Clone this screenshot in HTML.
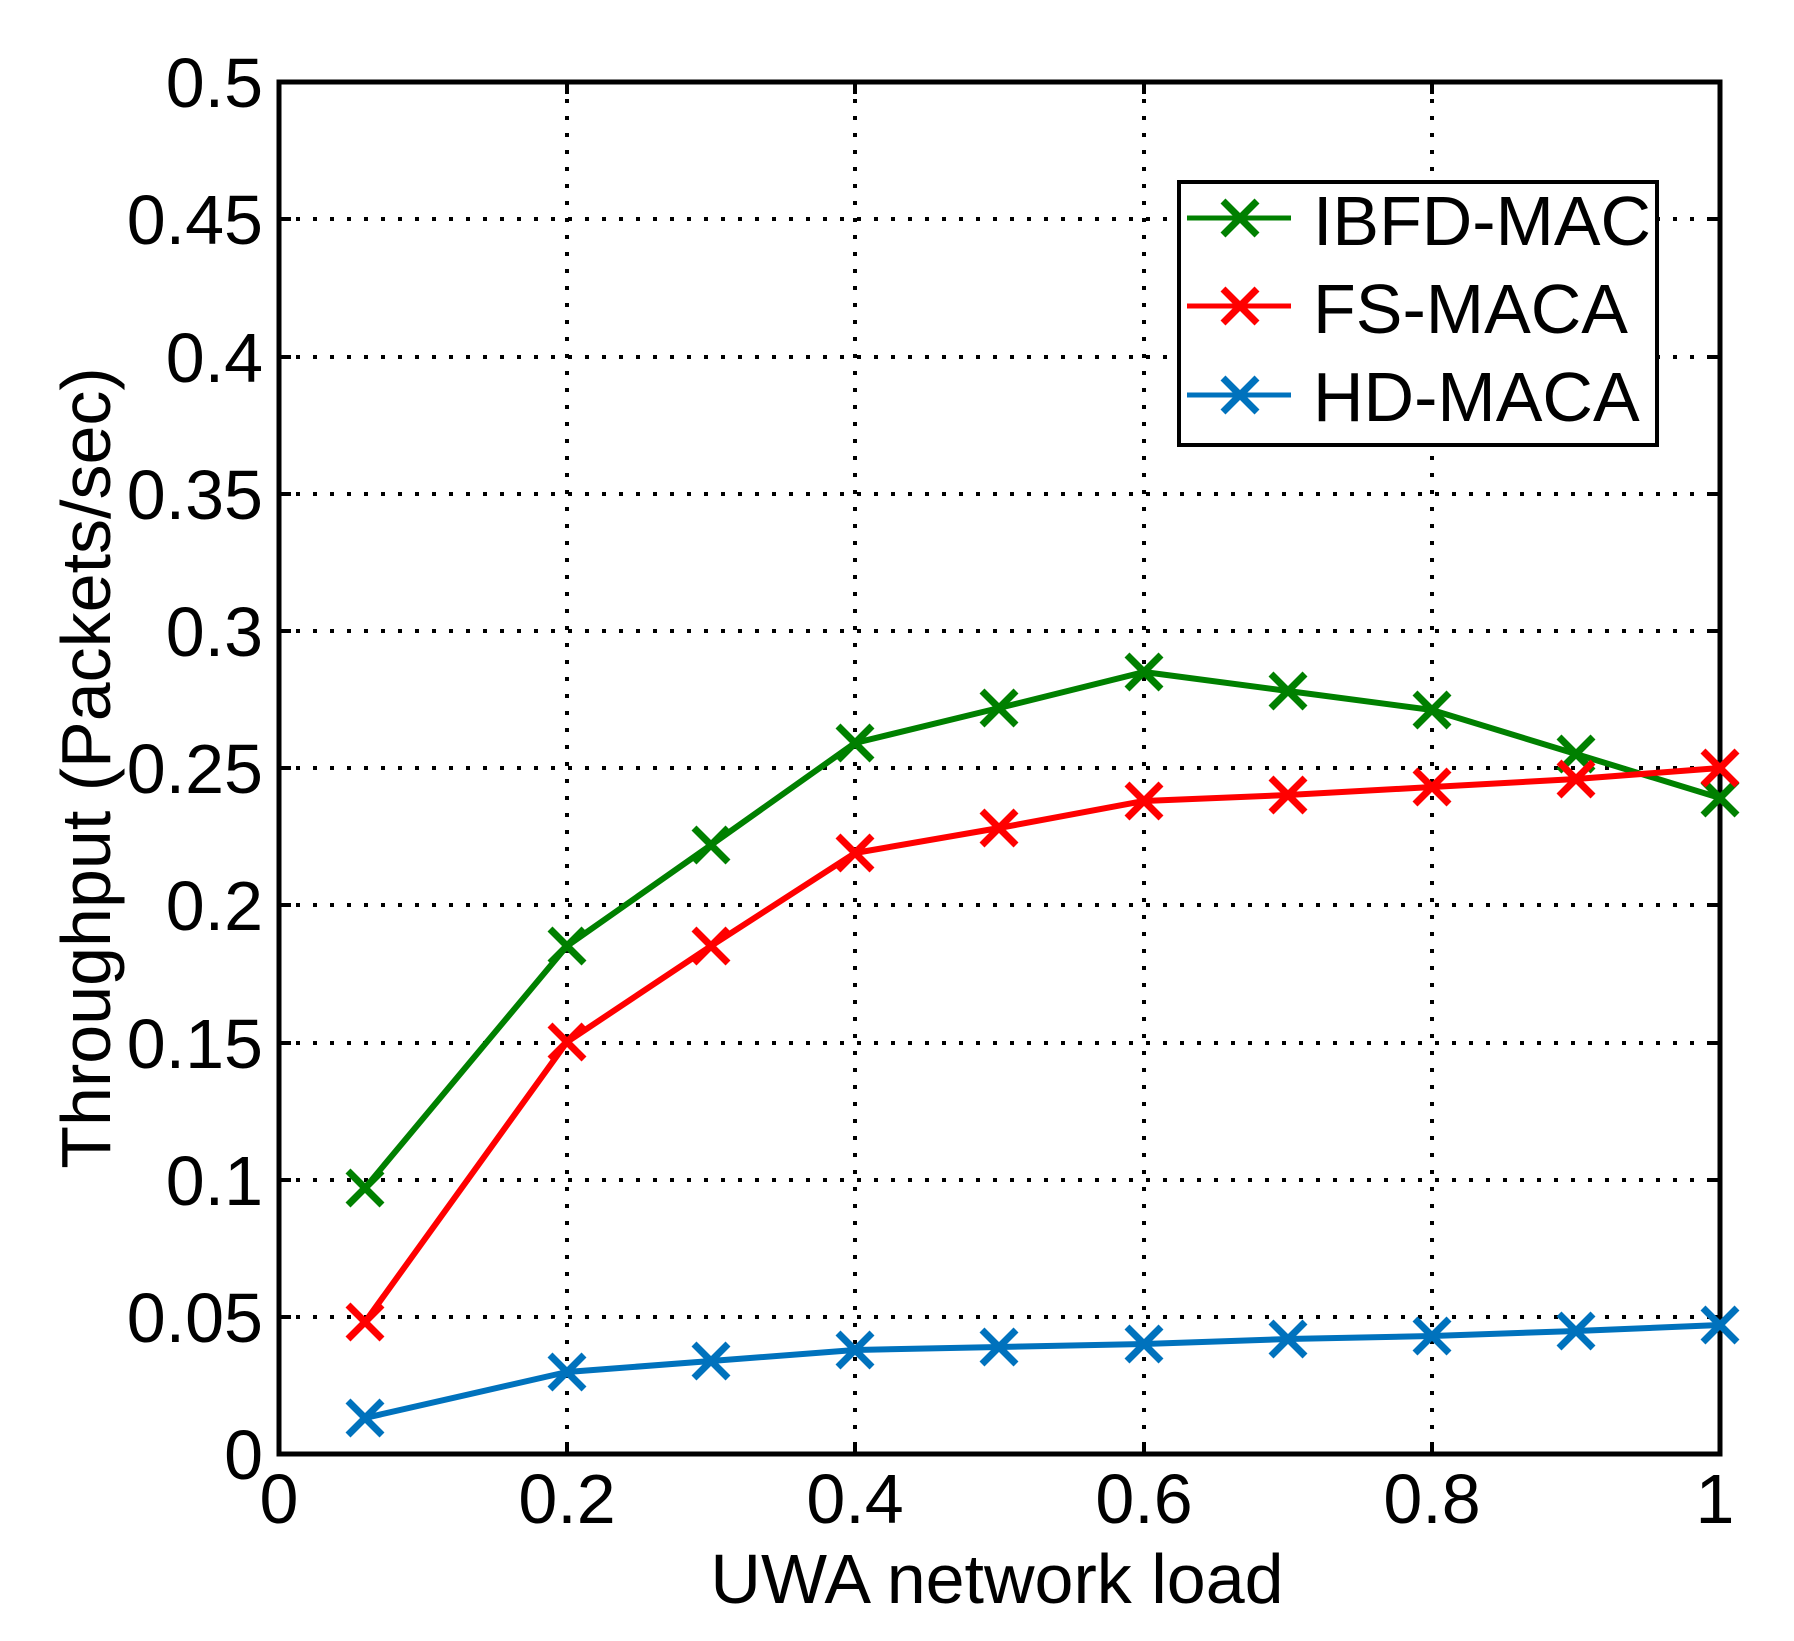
<!DOCTYPE html>
<html><head><meta charset="utf-8"><style>
html,body{margin:0;padding:0;background:#fff;}
svg{display:block;}
text{font-family:"Liberation Sans",Arial,sans-serif;fill:#000;}
</style></head><body>
<svg width="1794" height="1641" viewBox="0 0 1794 1641" xmlns="http://www.w3.org/2000/svg">
<rect width="1794" height="1641" fill="#fff"/>
<g stroke="#000" stroke-width="4" stroke-dasharray="4 13">
<line x1="567" y1="82" x2="567" y2="1454"/>
<line x1="855" y1="82" x2="855" y2="1454"/>
<line x1="1144" y1="82" x2="1144" y2="1454"/>
<line x1="1432" y1="82" x2="1432" y2="1454"/>
<line x1="279" y1="1317" x2="1720" y2="1317"/>
<line x1="279" y1="1180" x2="1720" y2="1180"/>
<line x1="279" y1="1043" x2="1720" y2="1043"/>
<line x1="279" y1="905" x2="1720" y2="905"/>
<line x1="279" y1="768" x2="1720" y2="768"/>
<line x1="279" y1="631" x2="1720" y2="631"/>
<line x1="279" y1="494" x2="1720" y2="494"/>
<line x1="279" y1="357" x2="1720" y2="357"/>
<line x1="279" y1="219" x2="1720" y2="219"/>
</g>
<g stroke="#000" stroke-width="4">
<path d="M567 1454v-12M855 1454v-12M1144 1454v-12M1432 1454v-12M567 82v12M855 82v12M1144 82v12M1432 82v12"/>
<path d="M279 1317h12M279 1180h12M279 1043h12M279 905h12M279 768h12M279 631h12M279 494h12M279 357h12M279 219h12"/>
<path d="M1720 1317h-12M1720 1180h-12M1720 1043h-12M1720 905h-12M1720 768h-12M1720 631h-12M1720 494h-12M1720 357h-12M1720 219h-12"/>
</g>
<rect x="279" y="82" width="1441" height="1372" fill="none" stroke="#000" stroke-width="5"/>
<g font-size="70" text-anchor="end">
<text x="263" y="1479">0</text>
<text x="263" y="1342">0.05</text>
<text x="263" y="1205">0.1</text>
<text x="263" y="1068">0.15</text>
<text x="263" y="930">0.2</text>
<text x="263" y="793">0.25</text>
<text x="263" y="656">0.3</text>
<text x="263" y="519">0.35</text>
<text x="263" y="382">0.4</text>
<text x="263" y="244">0.45</text>
<text x="263" y="107">0.5</text>
</g>
<g font-size="70" text-anchor="middle">
<text x="279" y="1523">0</text>
<text x="567" y="1523">0.2</text>
<text x="855" y="1523">0.4</text>
<text x="1144" y="1523">0.6</text>
<text x="1432" y="1523">0.8</text>
<text x="1715" y="1523">1</text>
</g>
<text x="997" y="1603" font-size="70" text-anchor="middle">UWA network load</text>
<text transform="translate(110,768) rotate(-90)" font-size="70" text-anchor="middle">Throughput (Packets/sec)</text>
<defs>
<path id="mk" d="M-17 -17L17 17M-17 17L17 -17" stroke-width="7" fill="none"/>
</defs>
<g fill="none" stroke-width="6" stroke-linejoin="round">
<polyline stroke="#008000" points="365,1188 567,946 711,845 855,743 999,708 1144,672 1288,691 1432,710 1576,754 1720,798"/>
<polyline stroke="#ff0000" points="365,1322 567,1042 711,946 855,853 999,828 1144,801 1288,795 1432,787 1576,779 1720,768"/>
<polyline stroke="#0072bd" points="365,1418 567,1372 711,1361 855,1350 999,1347 1144,1344 1288,1339 1432,1336 1576,1331 1720,1325"/>
</g>
<g stroke="#008000"><use href="#mk" x="365" y="1188"/><use href="#mk" x="567" y="946"/><use href="#mk" x="711" y="845"/><use href="#mk" x="855" y="743"/><use href="#mk" x="999" y="708"/><use href="#mk" x="1144" y="672"/><use href="#mk" x="1288" y="691"/><use href="#mk" x="1432" y="710"/><use href="#mk" x="1576" y="754"/><use href="#mk" x="1720" y="798"/></g>
<g stroke="#ff0000"><use href="#mk" x="365" y="1322"/><use href="#mk" x="567" y="1042"/><use href="#mk" x="711" y="946"/><use href="#mk" x="855" y="853"/><use href="#mk" x="999" y="828"/><use href="#mk" x="1144" y="801"/><use href="#mk" x="1288" y="795"/><use href="#mk" x="1432" y="787"/><use href="#mk" x="1576" y="779"/><use href="#mk" x="1720" y="768"/></g>
<g stroke="#0072bd"><use href="#mk" x="365" y="1418"/><use href="#mk" x="567" y="1372"/><use href="#mk" x="711" y="1361"/><use href="#mk" x="855" y="1350"/><use href="#mk" x="999" y="1347"/><use href="#mk" x="1144" y="1344"/><use href="#mk" x="1288" y="1339"/><use href="#mk" x="1432" y="1336"/><use href="#mk" x="1576" y="1331"/><use href="#mk" x="1720" y="1325"/></g>
<rect x="1179" y="182" width="478" height="263" fill="#fff" stroke="#000" stroke-width="4"/>
<g stroke-width="5">
<line x1="1187" y1="218" x2="1291" y2="218" stroke="#008000"/>
<line x1="1187" y1="306" x2="1291" y2="306" stroke="#ff0000"/>
<line x1="1187" y1="395" x2="1291" y2="395" stroke="#0072bd"/>
</g>
<use href="#mk" x="1240" y="218" stroke="#008000"/>
<use href="#mk" x="1240" y="306" stroke="#ff0000"/>
<use href="#mk" x="1240" y="395" stroke="#0072bd"/>
<g font-size="70">
<text x="1313" y="245" textLength="338" lengthAdjust="spacingAndGlyphs">IBFD-MAC</text>
<text x="1313" y="333">FS-MACA</text>
<text x="1313" y="421">HD-MACA</text>
</g>
</svg>
</body></html>
